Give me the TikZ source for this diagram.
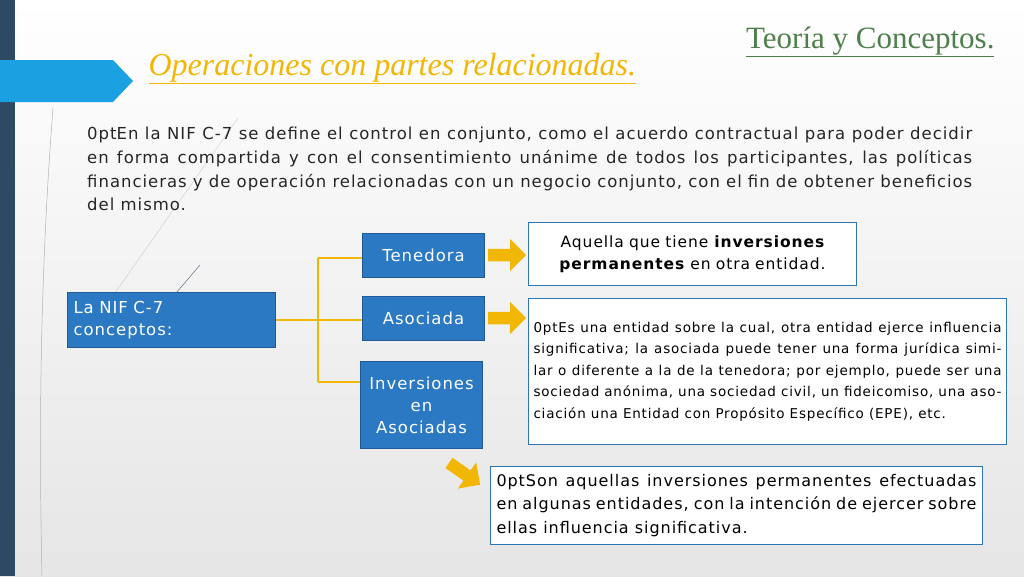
\documentclass[tikz,border=0pt]{standalone}
\usepackage{fontspec}
\setmainfont{DejaVu Sans}[LetterSpace=6]
\newfontfamily\titlefont{Liberation Serif}
\usetikzlibrary{shapes.arrows,shapes.symbols}
\definecolor{bar}{HTML}{2E4A62}
\definecolor{cyanb}{HTML}{1BA1E2}
\definecolor{gold}{HTML}{F2B705}
\definecolor{olive}{HTML}{4E7F4A}
\definecolor{boxb}{HTML}{2A79C2}
\definecolor{boxd}{HTML}{1F5A96}
\definecolor{txtbd}{HTML}{2E75B6}
\tikzset{
  bluebox/.style={draw=boxd,line width=1pt,fill=boxb,text=white,font=\fontsize{16.5}{22}\selectfont,align=center,inner sep=0pt},
  textbox/.style={draw=txtbd,line width=1pt,fill=white,inner sep=5pt},
  conn/.style={draw=gold,line width=2.2pt},
  yarrow/.style={single arrow,fill=gold,draw=none,minimum height=38pt,minimum width=32pt,single arrow head extend=5pt,inner sep=3pt}
}
\begin{document}
\begin{tikzpicture}[x=1pt,y=-1pt]
\useasboundingbox (0,0) rectangle (1024,576);
\shade[top color=white,bottom color=gray!20] (0,0) rectangle (1024,576);
\fill[bar] (0,0) rectangle (15,576);
\fill[cyanb] (0,60) -- (113,60) -- (133,81) -- (113,102) -- (0,102) -- cycle;
\draw[gray!60,line width=0.5pt] (53,108) .. controls (42,250) and (38,400) .. (42,576);
\draw[gray!40,line width=0.4pt] (238,118) -- (110,300);
\draw[bar!80,line width=0.5pt] (200,265) -- (170,300);
\node[anchor=base west,text=gold,font=\titlefont\itshape\fontsize{32}{38}\selectfont] (title) at (145,75) {\underline{Operaciones con partes relacionadas.}};
\node[anchor=base east,text=olive,font=\titlefont\fontsize{31}{38}\selectfont] (teo) at (998,48) {\underline{Teoría y Conceptos.}};
\node[anchor=north west,text width=885pt,align=justify,inner sep=0pt,font=\fontsize{16.5}{23.7}\selectfont\hyphenpenalty=10000,text=black!85] (para) at (87,127) {En la NIF C-7 se define el control en conjunto, como el acuerdo contractual para poder decidir en forma compartida y con el consentimiento unánime de todos los participantes, las políticas financieras y de operación relacionadas con un negocio conjunto, con el fin de obtener beneficios del mismo.};
\node[bluebox,minimum width=208pt,minimum height=55pt,align=left,anchor=north west,text width=196pt] (nif) at (67,292) {La NIF C-7\\conceptos:};
\node[bluebox,minimum width=122pt,minimum height=44pt,anchor=north west] (ten) at (362,233) {Tenedora};
\node[bluebox,minimum width=122pt,minimum height=44pt,anchor=north west] (aso) at (362,296) {Asociada};
\node[bluebox,minimum width=122pt,minimum height=87pt,anchor=north west] (inv) at (360,361) {Inversiones\\en\\Asociadas};
\coordinate (j) at (318,320);
\draw[conn] (nif.east) -- (j);
\draw[conn] (318,258) -- (318,382);
\draw[conn] (318,258) -- (ten.west |- 318,258);
\draw[conn] (j) -- (aso.west |- j);
\draw[conn] (318,382) -- (inv.west |- 318,382);
\node[textbox,anchor=north west,minimum width=328pt,minimum height=63pt,text width=318pt,align=center,font=\fontsize{15.5}{22}\selectfont] (d1) at (528,222) {Aquella que tiene \textbf{inversiones permanentes} en otra entidad.};
\node[textbox,anchor=north west,minimum width=478pt,minimum height=146pt,text width=468pt,align=justify,font=\fontsize{13.5}{21.5}\selectfont\hyphenpenalty=10000] (d2) at (528,298) {Es una entidad sobre la cual, otra entidad ejerce influencia significativa; la asociada puede tener una forma jurídica similar o diferente a la de la tenedora; por ejemplo, puede ser una sociedad anónima, una sociedad civil, un fideicomiso, una asociación una Entidad con Propósito Específico (EPE), etc.};
\node[textbox,anchor=north west,minimum width=492pt,minimum height=78pt,text width=480pt,align=justify,font=\fontsize{16}{23.5}\selectfont\hyphenpenalty=10000] (d3) at (490,466) {Son aquellas inversiones permanentes efectuadas en algunas entidades, con la intención de ejercer sobre ellas influencia significativa.};
\node[yarrow] (a1) at (504,255) {};
\node[yarrow] (a2) at (504,318) {};
\node[yarrow,rotate=-35] (a3) at (462,472) {};
\end{tikzpicture}
\end{document}
